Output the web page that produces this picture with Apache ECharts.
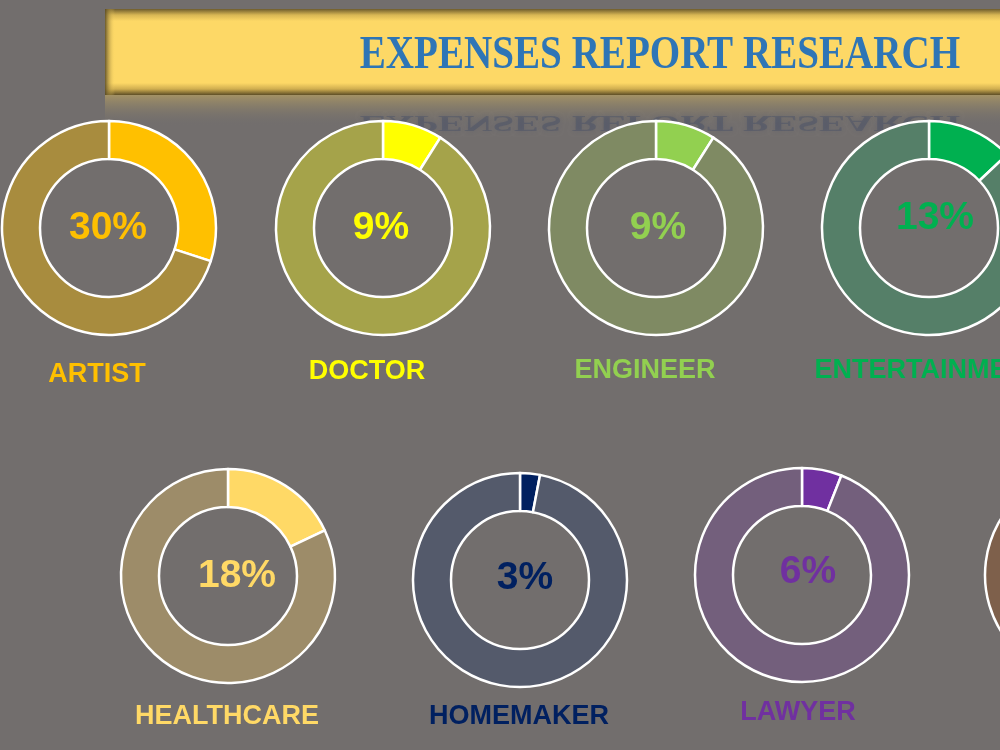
<!DOCTYPE html>
<html>
<head>
<meta charset="utf-8">
<title>Expenses Report Research</title>
<script src="https://cdn.jsdelivr.net/npm/echarts@6/dist/echarts.min.js"></script>
<style>
  html, body { margin: 0; padding: 0; background: #726e6d; }
  #main { width: 1000px; height: 750px; }
</style>
</head>
<body>
<div id="main"></div>
<script>
  // data
  var categories = ['ARTIST', 'DOCTOR', 'ENGINEER', 'ENTERTAINMENT', 'HEALTHCARE', 'HOMEMAKER', 'LAWYER', 'OTHERS'];
  var shares = [30, 9, 9, 13, 18, 3, 6, 8];
  var mainColors = ['#ffc000', '#ffff00', '#92d050', '#00b050', '#ffd966', '#002060', '#7030a0', '#a0522d'];
  var restColors = ['#a88c3e', '#a5a34a', '#7f8a63', '#557f68', '#9d8c69', '#545a6b', '#735f7c', '#7e604b'];

  // layout: pie centre, percent text centre, name text centre
  var pieCenters = [[109, 228], [383, 228], [656, 228], [929, 228], [228, 576], [520, 580], [802, 575], [1092, 575]];
  var pctPos = [[108, 228], [381, 228], [658, 228], [935, 218], [237, 576], [525, 578], [808, 572], [1092, 575]];
  var namePos = [[97, 375], [367, 372], [645, 371], [929, 371], [227, 717], [519, 717], [798, 713], [1092, 717]];

  var myChart = echarts.init(document.getElementById('main'));

  var series = [];
  var graphics = [];

  // banner + its reflection
  graphics.push({
    type: 'rect', z: 1,
    shape: {x: 105, y: 94, width: 900, height: 32},
    style: {
      fill: new echarts.graphic.LinearGradient(0, 0, 0, 1, [
        {offset: 0, color: 'rgba(170,150,100,0.95)'},
        {offset: 1, color: 'rgba(114,110,109,0)'}
      ])
    }
  });
  graphics.push({
    type: 'text', z: 1, x: 660, y: 122, scaleX: 0.85, scaleY: -0.5,
    style: {
      text: 'EXPENSES REPORT RESEARCH',
      fill: 'rgba(60,72,100,0.35)',
      font: 'bold 46px "Liberation Serif"',
      textAlign: 'center', textVerticalAlign: 'middle',
      textShadowColor: 'rgba(60,72,100,0.6)',
      textShadowBlur: 5
    }
  });
  graphics.push({
    type: 'rect', z: 2,
    shape: {x: 105, y: 9, width: 900, height: 86},
    style: {
      fill: new echarts.graphic.LinearGradient(0, 0, 0, 1, [
        {offset: 0, color: '#6e5c2c'},
        {offset: 0.07, color: '#d8b654'},
        {offset: 0.14, color: '#fdd866'},
        {offset: 0.86, color: '#fdd866'},
        {offset: 0.93, color: '#d0ae50'},
        {offset: 1, color: '#5e4e26'}
      ])
    }
  });
  graphics.push({
    type: 'rect', z: 3,
    shape: {x: 105, y: 9, width: 10, height: 86},
    style: {
      fill: new echarts.graphic.LinearGradient(0, 0, 1, 0, [
        {offset: 0, color: 'rgba(90,75,35,0.9)'},
        {offset: 1, color: 'rgba(253,216,102,0)'}
      ])
    }
  });
  graphics.push({
    type: 'text', z: 4, x: 660, y: 56, scaleX: 0.85,
    style: {
      text: 'EXPENSES REPORT RESEARCH',
      fill: '#2e75b6',
      font: 'bold 46px "Liberation Serif"',
      textAlign: 'center', textVerticalAlign: 'middle'
    }
  });

  for (var i = 0; i < categories.length; i++) {
    series.push({
      name: categories[i],
      type: 'pie',
      radius: [69, 107],
      center: pieCenters[i],
      startAngle: 90,
      clockwise: true,
      silent: true,
      label: {show: false},
      labelLine: {show: false},
      itemStyle: {borderColor: '#ffffff', borderWidth: 2.5},
      data: [
        {value: shares[i], name: categories[i], itemStyle: {color: mainColors[i]}},
        {value: 100 - shares[i], name: 'rest', itemStyle: {color: restColors[i]}}
      ]
    });
    graphics.push({
      type: 'text', z: 10, x: pctPos[i][0], y: pctPos[i][1],
      style: {
        text: shares[i] + '%',
        fill: mainColors[i],
        font: 'bold 39px "Liberation Sans"',
        textAlign: 'center', textVerticalAlign: 'middle'
      }
    });
    graphics.push({
      type: 'text', z: 10, x: namePos[i][0], y: namePos[i][1],
      style: {
        text: categories[i],
        fill: mainColors[i],
        font: 'bold 27px "Liberation Sans"',
        textAlign: 'center', textVerticalAlign: 'middle'
      }
    });
  }

  myChart.setOption({
    backgroundColor: '#726e6d',
    animation: false,
    graphic: graphics,
    series: series
  });
</script>
</body>
</html>
